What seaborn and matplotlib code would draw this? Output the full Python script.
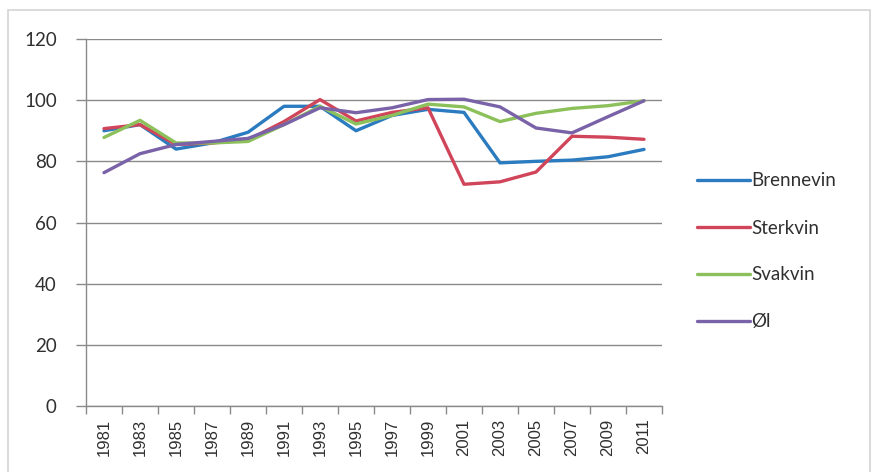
import matplotlib
matplotlib.use("Agg")
import matplotlib.pyplot as plt
import matplotlib.patches as mpatches
import seaborn as sns
import pandas as pd

years = [1981, 1983, 1985, 1987, 1989, 1991, 1993, 1995, 1997, 1999,
         2001, 2003, 2005, 2007, 2009, 2011]
brennevin = [90, 92, 84, 86, 89.5, 98, 98, 90, 95, 97, 96, 79.5, 80, 80.4, 81.5, 83.9]
sterkvin = [90.7, 92, 85.5, 86, 87, 93, 100.2, 93.2, 96, 97.5, 72.5, 73.3, 76.5, 88.2, 87.9, 87.2]
svakvin = [87.8, 93.4, 86, 86, 86.5, 92, 98, 92.2, 95, 98.7, 97.8, 93, 95.7, 97.3, 98.2, 99.8]
ol = [76.3, 82.5, 85.5, 86.5, 87.5, 92, 97.5, 95.9, 97.5, 100.2, 100.3, 97.8, 90.9, 89.3, 94.6, 99.8]
series_names = ["Brennevin", "Sterkvin", "Svakvin", "Øl"]
colors = ["#2a7bbf", "#d0455a", "#8cc05a", "#7a62a8"]
yticks = [0, 20, 40, 60, 80, 100, 120]

frames = []
for name, vals in zip(series_names, [brennevin, sterkvin, svakvin, ol]):
    frames.append(pd.DataFrame({"year": years, "value": vals, "series": name}))
df = pd.concat(frames, ignore_index=True)

sns.set_theme(style="white")
plt.rcParams["font.family"] = ["Lato", "DejaVu Sans"]

fig = plt.figure(figsize=(8.74, 4.72), dpi=100)
ax = fig.add_axes([86 / 874, 1 - 406 / 472, (662 - 86) / 874, (406 - 39) / 472])

# outer chart border
fig.patches.append(mpatches.Rectangle((8 / 874, -0.02), (870 - 8) / 874, 1 - 10 / 472 + 0.02,
                                      transform=fig.transFigure, fill=False,
                                      edgecolor="#d4d4d4", linewidth=1.2, zorder=0))

sns.lineplot(data=df, x="year", y="value", hue="series", hue_order=series_names,
             palette=colors, linewidth=2.4, ax=ax, legend=True)

ax.set_xlim(1980, 2012)
ax.set_ylim(0, 120)
ax.set_yticks(yticks)
ax.set_yticklabels([str(v) for v in yticks], fontsize=13.5, color="#303030")
ax.set_xticks(years)
ax.set_xticklabels([str(y) for y in years], rotation=90, fontsize=12,
                   family=["Liberation Sans", "DejaVu Sans"], color="#303030")
ax.set_xticks(list(range(1980, 2013, 2)), minor=True)
ax.tick_params(axis="x", which="major", bottom=True, length=0, pad=9)
ax.tick_params(axis="x", which="minor", bottom=True, length=6, width=1, color="#8a8a8a",
               direction="out")
ax.tick_params(axis="y", which="major", left=True, length=7, width=1, color="#8a8a8a",
               direction="out", pad=14)
ax.set_xlabel("")
ax.set_ylabel("")

ax.yaxis.grid(True, color="#8a8a8a", linewidth=1)
ax.xaxis.grid(False)
ax.set_axisbelow(True)
for s in ["top", "right"]:
    ax.spines[s].set_visible(False)
for s in ["left", "bottom"]:
    ax.spines[s].set_color("#8a8a8a")
    ax.spines[s].set_linewidth(1)

handles, labels = ax.get_legend_handles_labels()
ax.legend(handles, labels, loc="center left", bbox_to_anchor=(697 / 874, 1 - 251.5 / 472),
          bbox_transform=fig.transFigure, frameon=False, fontsize=13.5,
          handlelength=2.8, handletextpad=0.1, labelspacing=1.6, borderpad=0,
          borderaxespad=0)
for t in ax.get_legend().get_texts():
    t.set_color("#303030")

fig.savefig("out.png", dpi=100)
